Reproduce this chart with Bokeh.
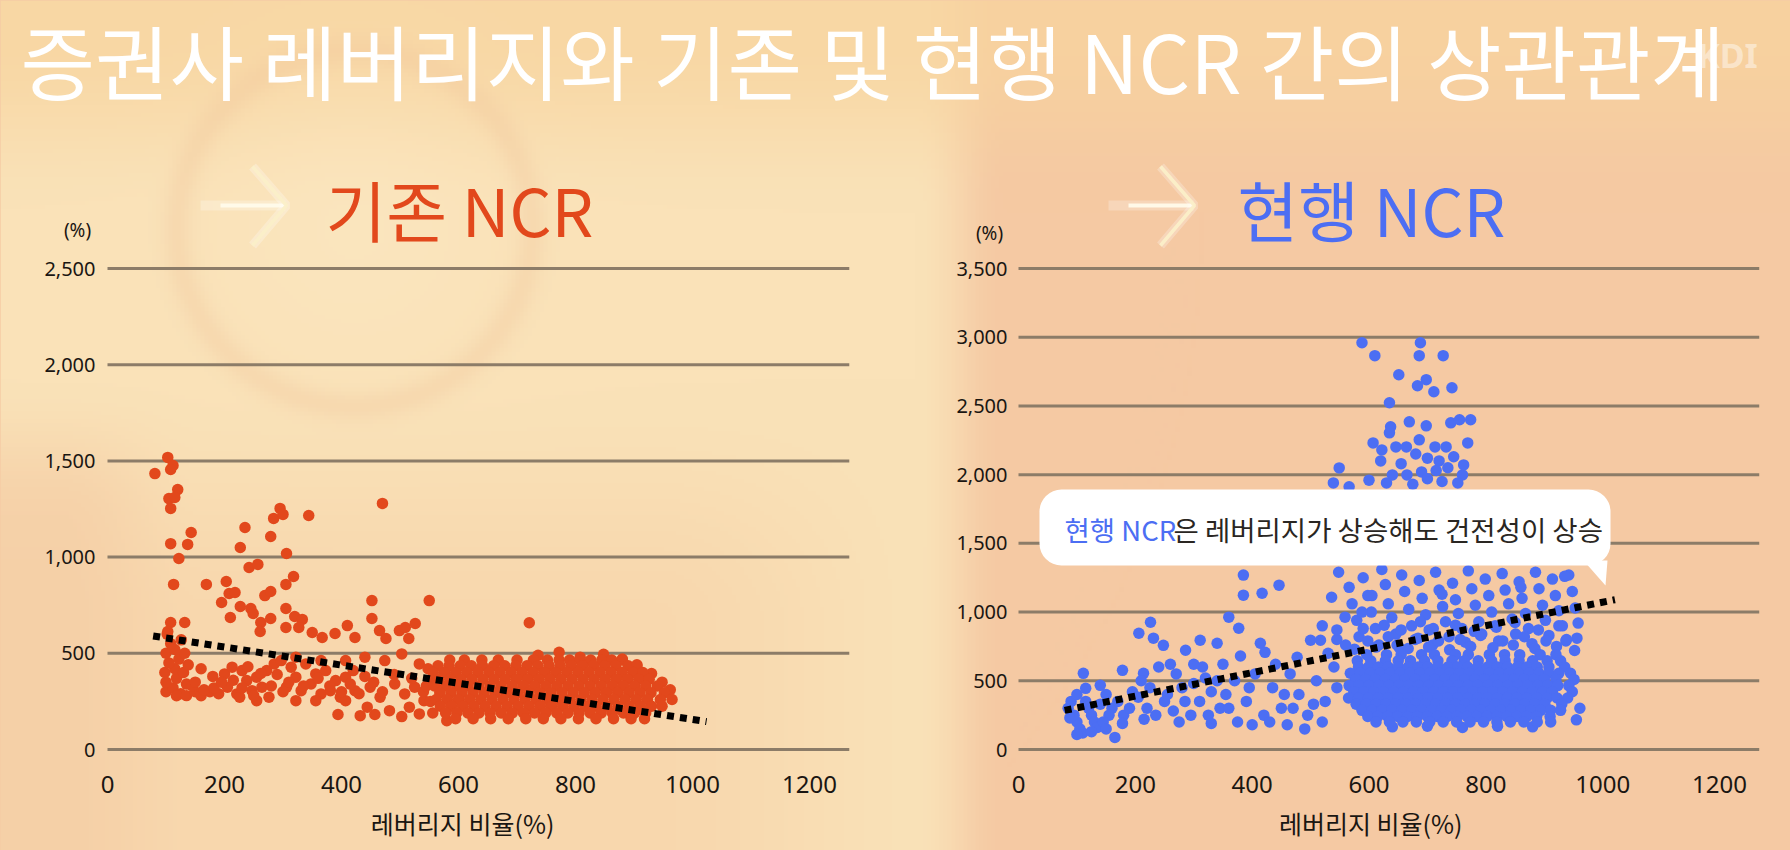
import numpy as np
from bokeh.plotting import figure
from bokeh.models import Range1d, GlobalInlineStyleSheet
from bokeh.core.properties import value
from bokeh.embed import file_html
from bokeh.resources import INLINE

# ---------------- DATA ----------------
TITLE = "증권사 레버리지와 기존 및 현행 NCR 간의 상관관계"
OLD_LABEL = "기존 NCR"
NEW_LABEL = "현행 NCR"
X_TITLE = "레버리지 비율(%)"
UNIT = "(%)"
NOTE_BLUE = "현행 NCR"
NOTE_REST = "은 레버리지가 상승해도 건전성이 상승"

x_ticks = [0, 200, 400, 600, 800, 1000, 1200]
old_y_ticks = [0, 500, 1000, 1500, 2000, 2500]
new_y_ticks = [0, 500, 1000, 1500, 2000, 2500, 3000, 3500]

# 기존 NCR : sparse points (leverage %, NCR %)
old_x = [103, 112, 108, 81, 120, 105, 115, 108, 143, 108, 137, 122, 113, 169, 203, 208,
         218, 195, 210, 227, 245, 249, 235, 227, 242, 257, 279, 284, 295, 300, 344, 306,
         318, 305, 269, 279, 305, 320, 333, 327, 262, 279, 261, 305, 350, 367, 389, 410,
         423, 452, 452, 465, 476, 470, 550, 499, 509, 526, 515, 108, 132, 103, 721,
         100, 112, 125, 100, 118, 135, 98, 115, 130, 105, 122, 138, 100, 115, 132, 108,
         126, 102, 118, 135, 150, 160, 175, 190, 145, 150, 165, 182,
         200, 213, 230, 238, 255, 272, 285, 205, 221, 247, 264, 276, 226, 255,
         297, 314, 322, 339, 356, 373, 390, 407, 306, 331, 348, 365, 381, 398, 322, 356,
         322, 365, 407, 440, 474, 503, 533, 394, 432, 457, 482, 503, 444,
         423, 449, 466, 491, 508, 525, 541, 516, 533, 407,
         160, 180, 195, 215, 240, 262, 290, 310, 335, 360, 380, 400, 415, 430, 455, 470,
         490, 520, 540, 555, 420, 440, 300, 280, 250, 230,
         736, 772, 808, 848, 880, 905, 930, 948, 962, 545, 548, 552, 556, 580]
old_y = [1518, 1476, 1455, 1434, 1351, 1304, 1310, 1253, 1128, 1070, 1066, 993, 858, 858, 873, 811,
         816, 764, 686, 743, 733, 707, 1154, 1050, 946, 962, 1107, 1201, 1253, 1222, 1216, 1019,
         899, 858, 800, 821, 733, 691, 676, 634, 660, 681, 613, 634, 608, 582, 603, 644,
         582, 774, 681, 618, 577, 1279, 774, 618, 634, 655, 577, 660, 660, 613, 659,
         300, 320, 290, 350, 370, 340, 400, 420, 400, 450, 470, 440, 500, 520, 500, 550,
         570, 600, 280, 280, 300, 280, 300, 290, 330, 350, 310, 320,
         393, 428, 410, 358, 376, 410, 445, 324, 289, 306, 324, 272, 272, 254,
         462, 428, 376, 445, 393, 410, 358, 376, 324, 306, 341, 289, 306, 272, 254, 254,
         480, 462, 462, 480, 462, 497, 445, 182, 176, 182, 202, 171, 220,
         306, 324, 272, 341, 289, 324, 254, 220, 185, 254,
         420, 380, 350, 360, 430, 395, 390, 350, 330, 370, 330, 300, 340, 290, 350, 300,
         390, 370, 300, 350, 410, 380, 300, 330, 280, 320,
         490, 505, 480, 495, 470, 440, 395, 350, 310, 330, 420, 250, 190, 150]

# 기존 NCR : dense cluster, rows of (NCR level, leverage values)
old_core_y = [465, 435, 400, 365, 330, 295, 260, 225, 190, 160]
old_core_x = [
    [585, 610, 640, 668, 700, 728, 752, 772, 790, 808, 826, 845, 862, 880],
    [565, 584, 603, 622, 641, 660, 679, 698, 717, 736, 755, 774, 793, 812, 831, 850, 869, 890, 905],
    [557, 576, 595, 614, 633, 652, 671, 690, 709, 728, 747, 766, 785, 804, 823, 842, 861, 880, 899, 915],
    [566, 585, 604, 623, 642, 661, 680, 699, 718, 737, 756, 775, 794, 813, 832, 851, 870, 889, 908, 926],
    [559, 578, 597, 616, 635, 654, 673, 692, 711, 730, 749, 768, 787, 806, 825, 844, 863, 882, 901, 920, 940],
    [568, 587, 606, 625, 644, 663, 682, 701, 720, 739, 758, 777, 796, 815, 834, 853, 872, 891, 910, 929, 952],
    [562, 581, 600, 619, 638, 657, 676, 695, 714, 733, 752, 771, 790, 809, 828, 847, 866, 885, 904, 923, 945, 965],
    [569, 588, 607, 626, 645, 664, 683, 702, 721, 740, 759, 778, 797, 816, 835, 854, 873, 892, 911, 930, 948],
    [578, 597, 616, 635, 654, 673, 692, 711, 730, 749, 768, 787, 806, 825, 844, 863, 882, 901, 920],
    [595, 625, 655, 685, 715, 745, 775, 805, 835, 865, 895, 918],
]
old_trend_x = [78, 1024]
old_trend_y = [590, 145]

# 현행 NCR : sparse points
new_x = [85, 95, 100, 105, 110, 90, 100, 115, 111, 120, 125, 130, 135, 115, 140, 150, 165, 160,
         155, 145, 170, 178, 180, 190, 195, 100, 125, 150, 88, 140, 178,
         206, 214, 226, 231, 248, 286, 311, 340, 210, 225, 240, 255, 270, 285, 300, 315, 330,
         345, 220, 235, 250, 265, 280, 295, 310, 325, 340, 355, 205, 260, 300, 320, 350, 360,
         377, 215, 275, 330,
         385, 385, 417, 446, 414, 422, 477, 500, 517, 536, 559, 370, 390, 405, 420, 435, 450,
         465, 480, 495, 510, 525, 540, 375, 400, 430, 460, 490, 520, 545, 440, 470, 380, 530,
         395, 455, 505, 360, 520, 545,
         588, 610, 688, 686, 727, 651, 683, 698, 711, 742, 635, 637, 635, 669, 698, 740, 755,
         774, 769, 607, 622, 646, 664, 686, 713, 732, 640, 665, 690, 715, 735, 760, 762, 752,
         549, 539, 566, 600, 620, 700, 680, 655, 720, 745, 700, 630, 675, 725,
         955, 961, 640, 700, 760, 820, 880,
         548, 566, 571, 579, 583, 590, 598, 604, 611, 617, 622, 628, 633, 639, 646, 652, 656,
         661, 668, 673, 679, 686, 691, 697, 703, 709, 714, 720, 726, 731, 737, 743, 748, 753,
         759, 765, 770, 776, 782, 788, 793, 799, 805, 810, 816, 822, 828, 833, 839, 845, 851,
         857, 862, 868, 873, 879, 885, 891, 897, 902, 908, 914, 919, 925, 931, 937, 942, 948,
         953, 958, 956, 588, 725, 860, 935, 605,
         575, 598, 612, 633, 648, 667, 684, 702, 719, 738, 756, 774, 791, 812, 829, 847, 866,
         884, 903, 921, 938, 952, 590, 626, 655, 688, 710, 748, 780, 818, 850, 890, 925, 560, 545]
new_y = [300, 250, 200, 150, 120, 350, 400, 445, 554, 300, 250, 200, 160, 350, 467, 400, 88, 300,
         250, 200, 350, 576, 250, 300, 420, 110, 130, 150, 230, 330, 190,
         846, 554, 926, 810, 758, 722, 795, 773, 500, 450, 600, 400, 550, 350, 480, 600, 420,
         300, 300, 250, 350, 280, 450, 250, 350, 250, 500, 400, 380, 620, 620, 520, 620, 963,
         882, 220, 200, 190,
         1269, 1123, 1137, 1196, 773, 707, 671, 795, 795, 1108, 963, 500, 350, 550, 250, 450, 300,
         550, 400, 250, 500, 350, 600, 200, 180, 200, 180, 150, 200, 450, 620, 300, 680, 700,
         450, 400, 330, 300, 900, 800,
         2960, 2866, 2960, 2866, 2866, 2727, 2647, 2691, 2603, 2632, 2523, 2348, 2304, 2384, 2355, 2377, 2399,
         2399, 2231, 2231, 2180, 2202, 2202, 2253, 2202, 2202, 1998, 1998, 2020, 2030, 2050, 1998, 2071, 1940,
         2049, 1940, 1911, 1960, 2100, 2120, 2150, 2080, 2100, 2130, 1970, 1940, 1930, 1950,
         216, 300, 165, 170, 160, 170, 165,
         1290, 1180, 1060, 940, 820, 1250, 1120, 1000, 880, 760, 1310, 1200, 1060, 960, 840, 740, 1270,
         1150, 1020, 900, 800, 1230, 1100, 980, 870, 760, 1290, 1160, 1040, 930, 820, 1210, 1090, 990,
         880, 780, 1300, 1170, 1050, 930, 840, 1240, 1120, 1000, 900, 790, 1280, 1160, 1060, 950, 840,
         1220, 1100, 990, 880, 770, 1290, 1170, 1050, 940, 830, 1240, 1120, 1010, 900, 790, 1270, 1150,
         1030, 920, 810, 1000, 1130, 1180, 1260, 1120,
         730, 790, 745, 820, 760, 735, 810, 745, 790, 725, 800, 750, 830, 740, 790, 760, 820,
         735, 790, 750, 800, 720, 880, 905, 870, 930, 880, 905, 860, 890, 925, 870, 900, 760, 870]

# 현행 NCR : dense cluster rows
new_core_y = [690, 645, 600, 555, 510, 465, 420, 375, 330, 285, 240, 200]
new_core_x = [
    [596, 630, 655, 690, 712, 748, 770, 806, 832, 858, 893, 920],
    [580, 603, 628, 650, 671, 695, 718, 742, 763, 787, 810, 833, 857, 880, 905, 928],
    [582, 599, 616, 633, 650, 667, 684, 701, 718, 735, 752, 769, 786, 803, 820, 837, 854, 871, 888, 908, 935],
    [568, 585, 602, 619, 636, 653, 670, 687, 704, 721, 738, 755, 772, 789, 806, 823, 840, 857, 874, 891, 908, 925, 945],
    [577, 594, 611, 628, 645, 662, 679, 696, 713, 730, 747, 764, 781, 798, 815, 832, 849, 866, 883, 900, 920, 951],
    [566, 583, 600, 617, 634, 651, 668, 685, 702, 719, 736, 753, 770, 787, 804, 821, 838, 855, 872, 889, 906, 923, 942],
    [574, 591, 608, 625, 642, 659, 676, 693, 710, 727, 744, 761, 778, 795, 812, 829, 846, 863, 880, 897, 914, 948],
    [565, 582, 599, 616, 633, 650, 667, 684, 701, 718, 735, 752, 769, 786, 803, 820, 837, 854, 871, 888, 905, 922, 940],
    [578, 595, 612, 629, 646, 663, 680, 697, 714, 731, 748, 765, 782, 799, 816, 833, 850, 867, 884, 901, 930],
    [588, 605, 622, 639, 656, 673, 690, 707, 724, 741, 758, 775, 792, 809, 826, 843, 860, 877, 894, 911, 928],
    [598, 615, 632, 649, 666, 683, 700, 717, 734, 751, 768, 785, 802, 819, 836, 853, 870, 887, 910],
    [612, 635, 658, 681, 704, 727, 750, 773, 796, 819, 842, 865, 888, 911],
]
new_trend_x = [79, 1021]
new_trend_y = [285, 1090]

# ---------------- LAYOUT / STYLE ----------------
W, H = 1790, 850
GRID_END = 1268

def sx(X):
    return X

def sy(Y):
    return H - Y

def x_range_for(x0px, x1200px):
    k = (x1200px - x0px) / 1200.0
    start = -sx(x0px) / k
    return Range1d(start, start + W / k)

def y_range_for(y0px, ytoppx, topval):
    k = (y0px - ytoppx) / float(topval)
    start = -sy(y0px) / k
    return Range1d(start, start + H / k)

ORANGE = "#E2481C"
BLUE = "#4C6EF3"
INK = "#1A1612"
GRID = "#8C7C68"
KR = value("Noto Sans CJK KR")
NUM = value("Noto Sans")

p = figure(width=W, height=H, x_range=Range1d(0, W), y_range=Range1d(0, H),
           output_backend="svg", toolbar_location=None, x_axis_type=None, y_axis_type=None,
           min_border=0, outline_line_color=None)
p.background_fill_color = "#F6CCA5"
p.border_fill_color = "#F6CCA5"
p.stylesheets = [GlobalInlineStyleSheet(css="html, body { background: #F6CCA5; }")]
p.extra_x_ranges = {"lx": x_range_for(107, 809), "rx": x_range_for(1018, 1719)}
p.extra_y_ranges = {"ly": y_range_for(749, 268, 2500), "ry": y_range_for(749, 268, 3500)}

# background gradient (decoration)
nx, ny = 448, 213
Xc = (np.arange(nx) + 0.5) * W / nx
Yc = H - (np.arange(ny) + 0.5) * H / ny
XX, YY = np.meshgrid(Xc, Yc)

def smooth(a, b, v):
    t = np.clip((v - a) / (b - a), 0, 1)
    return t * t * (3 - 2 * t)

left_c = np.array([250, 226, 184], float)
right_c = np.array([245, 201, 163], float)
t = smooth(915, 1005, XX)[..., None]
col = left_c * (1 - t) + right_c * t

def blend(col, w, c):
    w = w[..., None]
    return col * (1 - w) + np.array(c, float) * w

col = blend(col, (1 - smooth(40, 210, YY)) * 0.75, (248, 212, 158))
col = blend(col, smooth(380, 620, YY) * (1 - smooth(650, 950, XX)) * 0.6, (247, 209, 167))
col = blend(col, (1 - smooth(60, 200, XX)) * smooth(380, 520, YY) * 0.6, (244, 203, 163))
rr = np.hypot(XX - 354, YY - 228)
col = blend(col, np.exp(-(rr / 140.0) ** 2) * 0.45, (252, 233, 196))
col = blend(col, np.exp(-((rr - 178) / 15.0) ** 2) * 0.3, (240, 196, 154))
img = np.empty((ny, nx), dtype=np.uint32)
view = img.view(dtype=np.uint8).reshape((ny, nx, 4))
view[..., 0] = col[..., 0].astype(np.uint8)
view[..., 1] = col[..., 1].astype(np.uint8)
view[..., 2] = col[..., 2].astype(np.uint8)
view[..., 3] = 255
p.image_rgba(image=[img], x=0, y=0, dw=W, dh=H)

# title
p.text(x=[sx(20)], y=[sy(58)], text=[TITLE], text_font=KR, text_font_size="81px",
       text_color="white", text_baseline="middle", text_align="left")
p.text(x=[sx(1727)], y=[sy(54)], text=["KDI"], text_font=NUM, text_font_size="34px",
       text_font_style="bold", text_color="white", text_alpha=0.45,
       text_baseline="middle", text_align="center")

# arrows + subtitles
for ax0 in [200, 1108]:
    p.line([sx(ax0), sx(ax0 + 85)], [sy(205), sy(205)], line_color="white", line_width=10, line_alpha=0.25)
    p.line([sx(ax0 + 20), sx(ax0 + 85)], [sy(205), sy(205)], line_color="#FFFBEA", line_width=4, line_alpha=0.95)
    p.line([sx(ax0 + 52), sx(ax0 + 86), sx(ax0 + 52)], [sy(166), sy(205), sy(245)],
           line_color="white", line_width=9, line_alpha=0.25)
    p.line([sx(ax0 + 52), sx(ax0 + 86), sx(ax0 + 52)], [sy(166), sy(205), sy(245)],
           line_color="#FBEFC8", line_width=3.5, line_alpha=0.95)
p.text(x=[sx(325)], y=[sy(207)], text=[OLD_LABEL], text_font=KR, text_font_size="66px",
       text_color=ORANGE, text_baseline="middle", text_align="left")
p.text(x=[sx(1237)], y=[sy(207)], text=[NEW_LABEL], text_font=KR, text_font_size="66px",
       text_color=BLUE, text_baseline="middle", text_align="left")

def draw_chart(xn, yn, yticks, xs, ys, core_y, core_x, color, tx, ty, lab_dx, unit_dx, unit_dy, title_x):
    kw = dict(x_range_name=xn, y_range_name=yn)
    p.segment(x0=[0] * len(yticks), x1=[GRID_END] * len(yticks), y0=yticks, y1=yticks,
              line_color=GRID, line_width=3, **kw)
    p.text(x=[0] * len(yticks), y=yticks, text=[f"{v:,}" for v in yticks], x_offset=lab_dx,
           text_align="right", text_baseline="middle", text_font=NUM, text_font_size="20px",
           text_color=INK, **kw)
    p.text(x=x_ticks, y=[0] * len(x_ticks), text=[str(v) for v in x_ticks], y_offset=35,
           text_align="center", text_baseline="middle", text_font=NUM, text_font_size="24px",
           text_color=INK, **kw)
    p.text(x=[title_x], y=[0], text=[X_TITLE], y_offset=73, text_align="center",
           text_baseline="middle", text_font=KR, text_font_size="25px", text_color=INK, **kw)
    p.text(x=[0], y=[yticks[-1]], text=[UNIT], x_offset=unit_dx, y_offset=unit_dy,
           text_align="center", text_baseline="middle", text_font=NUM, text_font_size="19px",
           text_color=INK, **kw)
    cx = [x for row in core_x for x in row]
    cy = [yv for yv, row in zip(core_y, core_x) for _ in row]
    p.scatter(x=list(xs) + cx, y=list(ys) + cy, size=11.5, fill_color=color, line_color=None, **kw)
    p.line(tx, ty, line_color="black", line_width=7, line_dash="7 6", line_cap="butt", **kw)

draw_chart("lx", "ly", old_y_ticks, old_x, old_y, old_core_y, old_core_x, ORANGE,
           old_trend_x, old_trend_y, -12, -30, -39, 607)
draw_chart("rx", "ry", new_y_ticks, new_x, new_y, new_core_y, new_core_x, BLUE,
           new_trend_x, new_trend_y, -11, -29, -36, 603)

# callout
p.quad(left=[sx(1039)], right=[sx(1610)], top=[sy(489)], bottom=[sy(565)],
       fill_color="white", line_color=None, border_radius=22)
p.patch(x=[sx(1583), sx(1607), sx(1605)], y=[sy(560), sy(560), sy(585)],
        fill_color="white", line_color=None)
p.text(x=[sx(1064)], y=[sy(528)], text=[NOTE_BLUE], text_font=KR, text_font_size="27.5px",
       text_color=BLUE, text_baseline="middle", text_align="left")
p.text(x=[sx(1173)], y=[sy(528)], text=[NOTE_REST], text_font=KR, text_font_size="27.5px",
       text_color="#2A2622", text_baseline="middle", text_align="left")

open("out.html", "w").write(file_html(p, INLINE))
